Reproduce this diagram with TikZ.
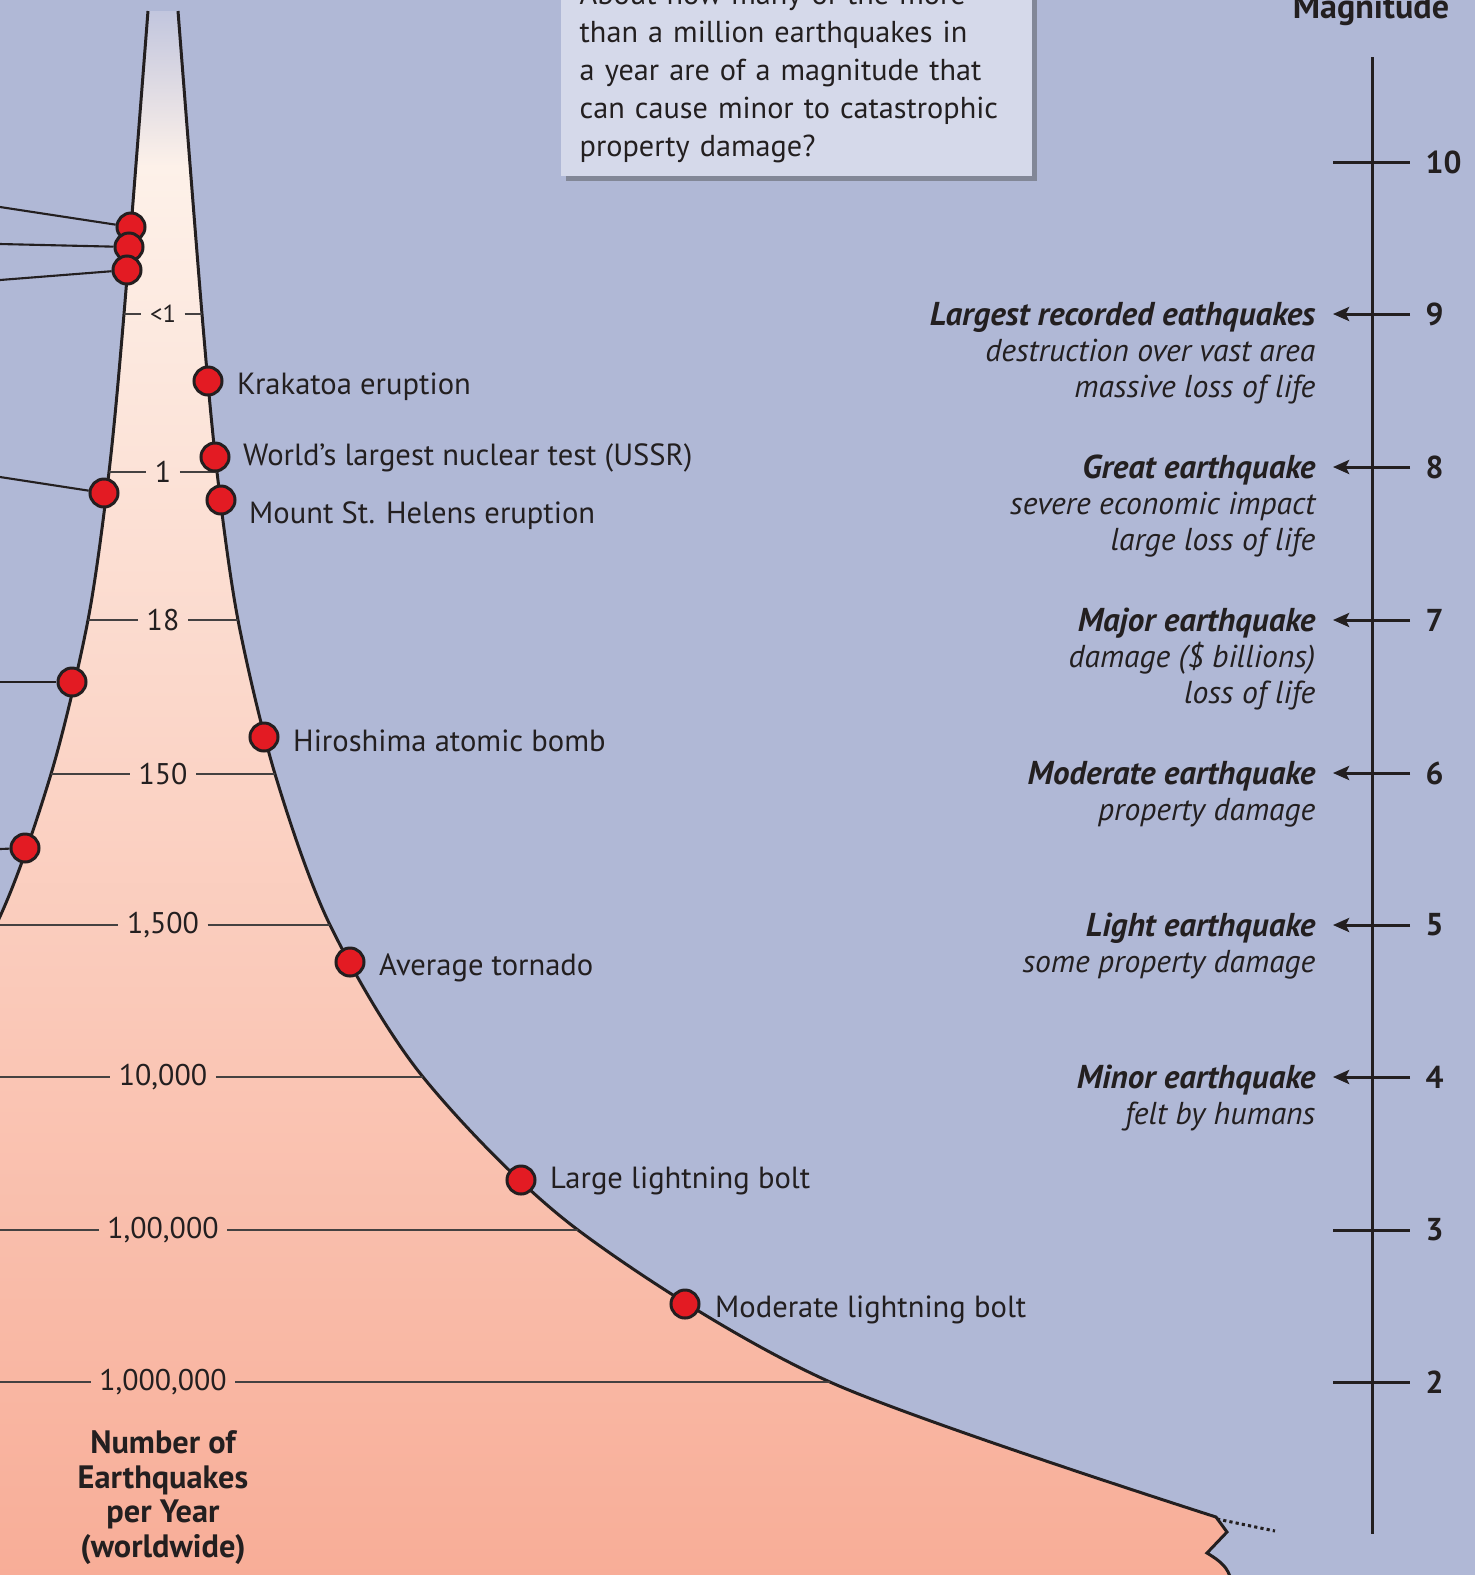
\documentclass[tikz,border=0pt]{standalone}
\usepackage{fontspec}
\setmainfont{PT Sans}
\usetikzlibrary{positioning,arrows.meta,shadows}
\definecolor{sky}{RGB}{176,184,214}
\definecolor{note}{RGB}{213,217,234}
\definecolor{ink}{RGB}{35,31,32}
\definecolor{quake}{RGB}{227,27,35}
\definecolor{cream}{RGB}{253,241,233}
\definecolor{salmon}{RGB}{248,172,150}
\definecolor{haze}{RGB}{194,198,222}
\newcommand{\magnamefont}{\fontsize{9.4}{10.2}\selectfont\bfseries\itshape}
\tikzset{
  event/.style={draw=ink, fill=quake, circle, line width=0.85pt, minimum size=0.28cm, inner sep=0pt},
  evtext/.style={font=\fontsize{8.7}{11}\selectfont, text=ink, inner sep=0pt, text height=6.1pt, text depth=0pt},
  tally/.style={font=\fontsize{8.5}{10}\selectfont, text=ink, inner ysep=0pt, inner xsep=0.08cm},
  rim/.style={draw=ink, line width=0.85pt},
  gauge/.style={draw=ink!85, line width=0.6pt},
  leader/.style={draw=ink, line width=0.6pt},
  magtick/.style={draw=ink, line width=0.85pt},
  magarrow/.style={magtick, -{Stealth[length=4.6pt,width=4pt,inset=1pt]}},
  magnum/.style={font=\fontsize{9}{10}\selectfont\bfseries, text=ink, inner sep=0pt},
  magnote/.style={font=\fontsize{9}{10.2}\selectfont\itshape, text=ink, align=right, inner sep=0pt, anchor=base east},
  axisname/.style={font=\fontsize{9.2}{9.8}\selectfont\bfseries, align=center, text=ink, inner sep=0pt, anchor=north},
  question/.style={fill=note, drop shadow={shadow xshift=0.05cm, shadow yshift=-0.05cm, opacity=0.45, fill=black!70},
    text width=4.33cm, inner xsep=0.19cm, inner ysep=0.135cm, align=left, font=\fontsize{8.6}{10.8}\selectfont, text=ink}
}
\begin{document}
\begin{tikzpicture}[x=0.01cm, y=-0.01cm]
    \clip (0,0) rectangle (1475,1575);
    \fill[sky] (0,0) rectangle (1475,1575);

    % funnel of yearly counts
    \begin{scope}
        \clip plot[smooth] coordinates {(148,11) (124,314) (109,472) (88,620) (51,774) (-4,925) (-97,1077)}
            -- (-97,1600) -- (1232,1600) -- (1231,1580) .. controls (1228,1568) and (1222,1562) .. (1207,1553) -- (1227,1532)
            -- plot[smooth] coordinates {(1216,1517) (830,1382) (578,1230) (423,1077) (330,925) (275,774) (238,620) (217,472) (202,314) (178,11)} -- cycle;
        \shade[top color=cream, bottom color=salmon] (0,165) rectangle (1475,1600);
        \shade[top color=haze, bottom color=cream] (0,11) rectangle (1475,166);
    \end{scope}
    \draw[rim] plot[smooth] coordinates {(148,11) (124,314) (109,472) (88,620) (51,774) (-4,925) (-97,1077)};
    \draw[rim] plot[smooth] coordinates {(178,11) (202,314) (217,472) (238,620) (275,774) (330,925) (423,1077) (578,1230) (830,1382) (1216,1517)}
        -- (1227,1532) -- (1207,1553) .. controls (1222,1562) and (1228,1568) .. (1231,1580);
    \coordinate (cut) at (1217,1519);
    \coordinate (cutend) at (1275,1531);
    \draw[rim, dash pattern=on 0.9pt off 0.9pt] (cut) -- (cutend);

    % counts per year
    \coordinate (l9) at (124,314);
    \coordinate (r9) at (202,314);
    \coordinate (l8) at (109,472);
    \coordinate (r8) at (217,472);
    \coordinate (l7) at (88,620);
    \coordinate (r7) at (238,620);
    \coordinate (l6) at (51,774);
    \coordinate (r6) at (275,774);
    \coordinate (l5) at (0,925);
    \coordinate (r5) at (330,925);
    \coordinate (l4) at (0,1077);
    \coordinate (r4) at (423,1077);
    \coordinate (l3) at (0,1230);
    \coordinate (r3) at (578,1230);
    \coordinate (l2) at (0,1382);
    \coordinate (r2) at (830,1382);
    \node[tally, font=\fontsize{7}{8}\selectfont] (c9) at (163,314) {<1};
    \node[tally] (c8) at (163,472) {1};
    \node[tally] (c7) at (163,620) {18};
    \node[tally] (c6) at (163,774) {150};
    \node[tally] (c5) at (163,925) {1,500};
    \node[tally] (c4) at (163,1077) {10,000};
    \node[tally] (c3) at (163,1230) {1,00,000};
    \node[tally] (c2) at (163,1382) {1,000,000};
    \draw[gauge] (l9) -- (c9) (c9) -- (r9);
    \draw[gauge] (l8) -- (c8) (c8) -- (r8);
    \draw[gauge] (l7) -- (c7) (c7) -- (r7);
    \draw[gauge] (l6) -- (c6) (c6) -- (r6);
    \draw[gauge] (l5) -- (c5) (c5) -- (r5);
    \draw[gauge] (l4) -- (c4) (c4) -- (r4);
    \draw[gauge] (l3) -- (c3) (c3) -- (r3);
    \draw[gauge] (l2) -- (c2) (c2) -- (r2);
    \node[axisname] (yname) at (163,1430) {Number of\\Earthquakes\\per Year\\(worldwide)};

    % events on the left
    \coordinate (f1) at (0,207);
    \coordinate (f2) at (0,244);
    \coordinate (f3) at (0,280);
    \coordinate (f4) at (0,477);
    \coordinate (f5) at (0,682);
    \coordinate (f6) at (0,849);
    \node[event] (e4) at (104,493) {};
    \node[event] (e5) at (72,682) {};
    \node[event] (e6) at (25,848) {};
    \node[event] (e1) at (131,227) {};
    \node[event] (e2) at (129,247) {};
    \node[event] (e3) at (127,270) {};
    \draw[leader] (f1) -- (e1);
    \draw[leader] (f2) -- (e2);
    \draw[leader] (f3) -- (e3);
    \draw[leader] (f4) -- (e4);
    \draw[leader] (f5) -- (e5);
    \draw[leader] (f6) -- (e6);

    % events on the right
    \node[event] (krakatoa) at (208,381) {};
    \node[event] (nuke) at (215,457) {};
    \node[event] (helens) at (221,500) {};
    \node[event] (hiroshima) at (264,737) {};
    \node[event] (tornado) at (350,962) {};
    \node[event] (bigbolt) at (521,1180) {};
    \node[event] (bolt) at (685,1304) {};
    \node[evtext, right=0.13cm of krakatoa, yshift=-0.03cm] (krakatoa-t) {Krakatoa eruption};
    \node[evtext, right=0.12cm of nuke, yshift=0.02cm] (nuke-t) {World’s largest nuclear test (USSR)};
    \node[evtext, right=0.12cm of helens, yshift=-0.13cm] (helens-t) {Mount St. Helens eruption};
    \node[evtext, right=0.13cm of hiroshima, yshift=-0.04cm] (hiroshima-t) {Hiroshima atomic bomb};
    \node[evtext, right=0.13cm of tornado, yshift=-0.025cm] (tornado-t) {Average tornado};
    \node[evtext, right=0.13cm of bigbolt, yshift=0.02cm] (bigbolt-t) {Large lightning bolt};
    \node[evtext, right=0.14cm of bolt, yshift=-0.03cm] (bolt-t) {Moderate lightning bolt};

    % question
    \node[question, anchor=south west] (q) at (560,177) {About how many of the more\\than a million earthquakes in\\a year are of a magnitude that\\can cause minor to catastrophic\\property damage?};

    % magnitude scale
    \node[magnum, font=\fontsize{9.7}{10}\selectfont\bfseries, anchor=base] (mtitle) at (1371,18) {Magnitude};
    \coordinate (axtop) at (1372,57);
    \coordinate (axbot) at (1372,1534);
    \draw[magtick] (axtop) -- (axbot);
    \coordinate (a10) at (1333,162);
    \coordinate (b10) at (1410,162);
    \coordinate (a9) at (1333,314);
    \coordinate (b9) at (1410,314);
    \coordinate (a8) at (1333,467);
    \coordinate (b8) at (1410,467);
    \coordinate (a7) at (1333,620);
    \coordinate (b7) at (1410,620);
    \coordinate (a6) at (1333,773);
    \coordinate (b6) at (1410,773);
    \coordinate (a5) at (1333,925);
    \coordinate (b5) at (1410,925);
    \coordinate (a4) at (1333,1077);
    \coordinate (b4) at (1410,1077);
    \coordinate (a3) at (1333,1230);
    \coordinate (b3) at (1410,1230);
    \coordinate (a2) at (1333,1382);
    \coordinate (b2) at (1410,1382);
    \draw[magtick] (a10) -- (b10);
    \draw[magarrow] (b9) -- (a9);
    \draw[magarrow] (b8) -- (a8);
    \draw[magarrow] (b7) -- (a7);
    \draw[magarrow] (b6) -- (a6);
    \draw[magarrow] (b5) -- (a5);
    \draw[magarrow] (b4) -- (a4);
    \draw[magtick] (a3) -- (b3);
    \draw[magtick] (a2) -- (b2);
    \node[magnum, right=0.15cm of b10] (n10) {10};
    \node[magnum, right=0.15cm of b9] (n9) {9};
    \node[magnum, right=0.15cm of b8] (n8) {8};
    \node[magnum, right=0.15cm of b7] (n7) {7};
    \node[magnum, right=0.15cm of b6] (n6) {6};
    \node[magnum, right=0.15cm of b5] (n5) {5};
    \node[magnum, right=0.15cm of b4] (n4) {4};
    \node[magnum, right=0.15cm of b3] (n3) {3};
    \node[magnum, right=0.15cm of b2] (n2) {2};
    \node[magnote] (g9) at (1316,397) {{\magnamefont Largest recorded eathquakes}\\destruction over vast area\\massive loss of life};
    \node[magnote] (g8) at (1316,550) {{\magnamefont Great earthquake}\\severe economic impact\\large loss of life};
    \node[magnote] (g7) at (1316,703) {{\magnamefont Major earthquake}\\damage (\$ billions)\\loss of life};
    \node[magnote] (g6) at (1316,820) {{\magnamefont Moderate earthquake}\\property damage};
    \node[magnote] (g5) at (1316,972) {{\magnamefont Light earthquake}\\some property damage};
    \node[magnote] (g4) at (1316,1124) {{\magnamefont Minor earthquake}\\felt by humans};
\end{tikzpicture}
\end{document}
